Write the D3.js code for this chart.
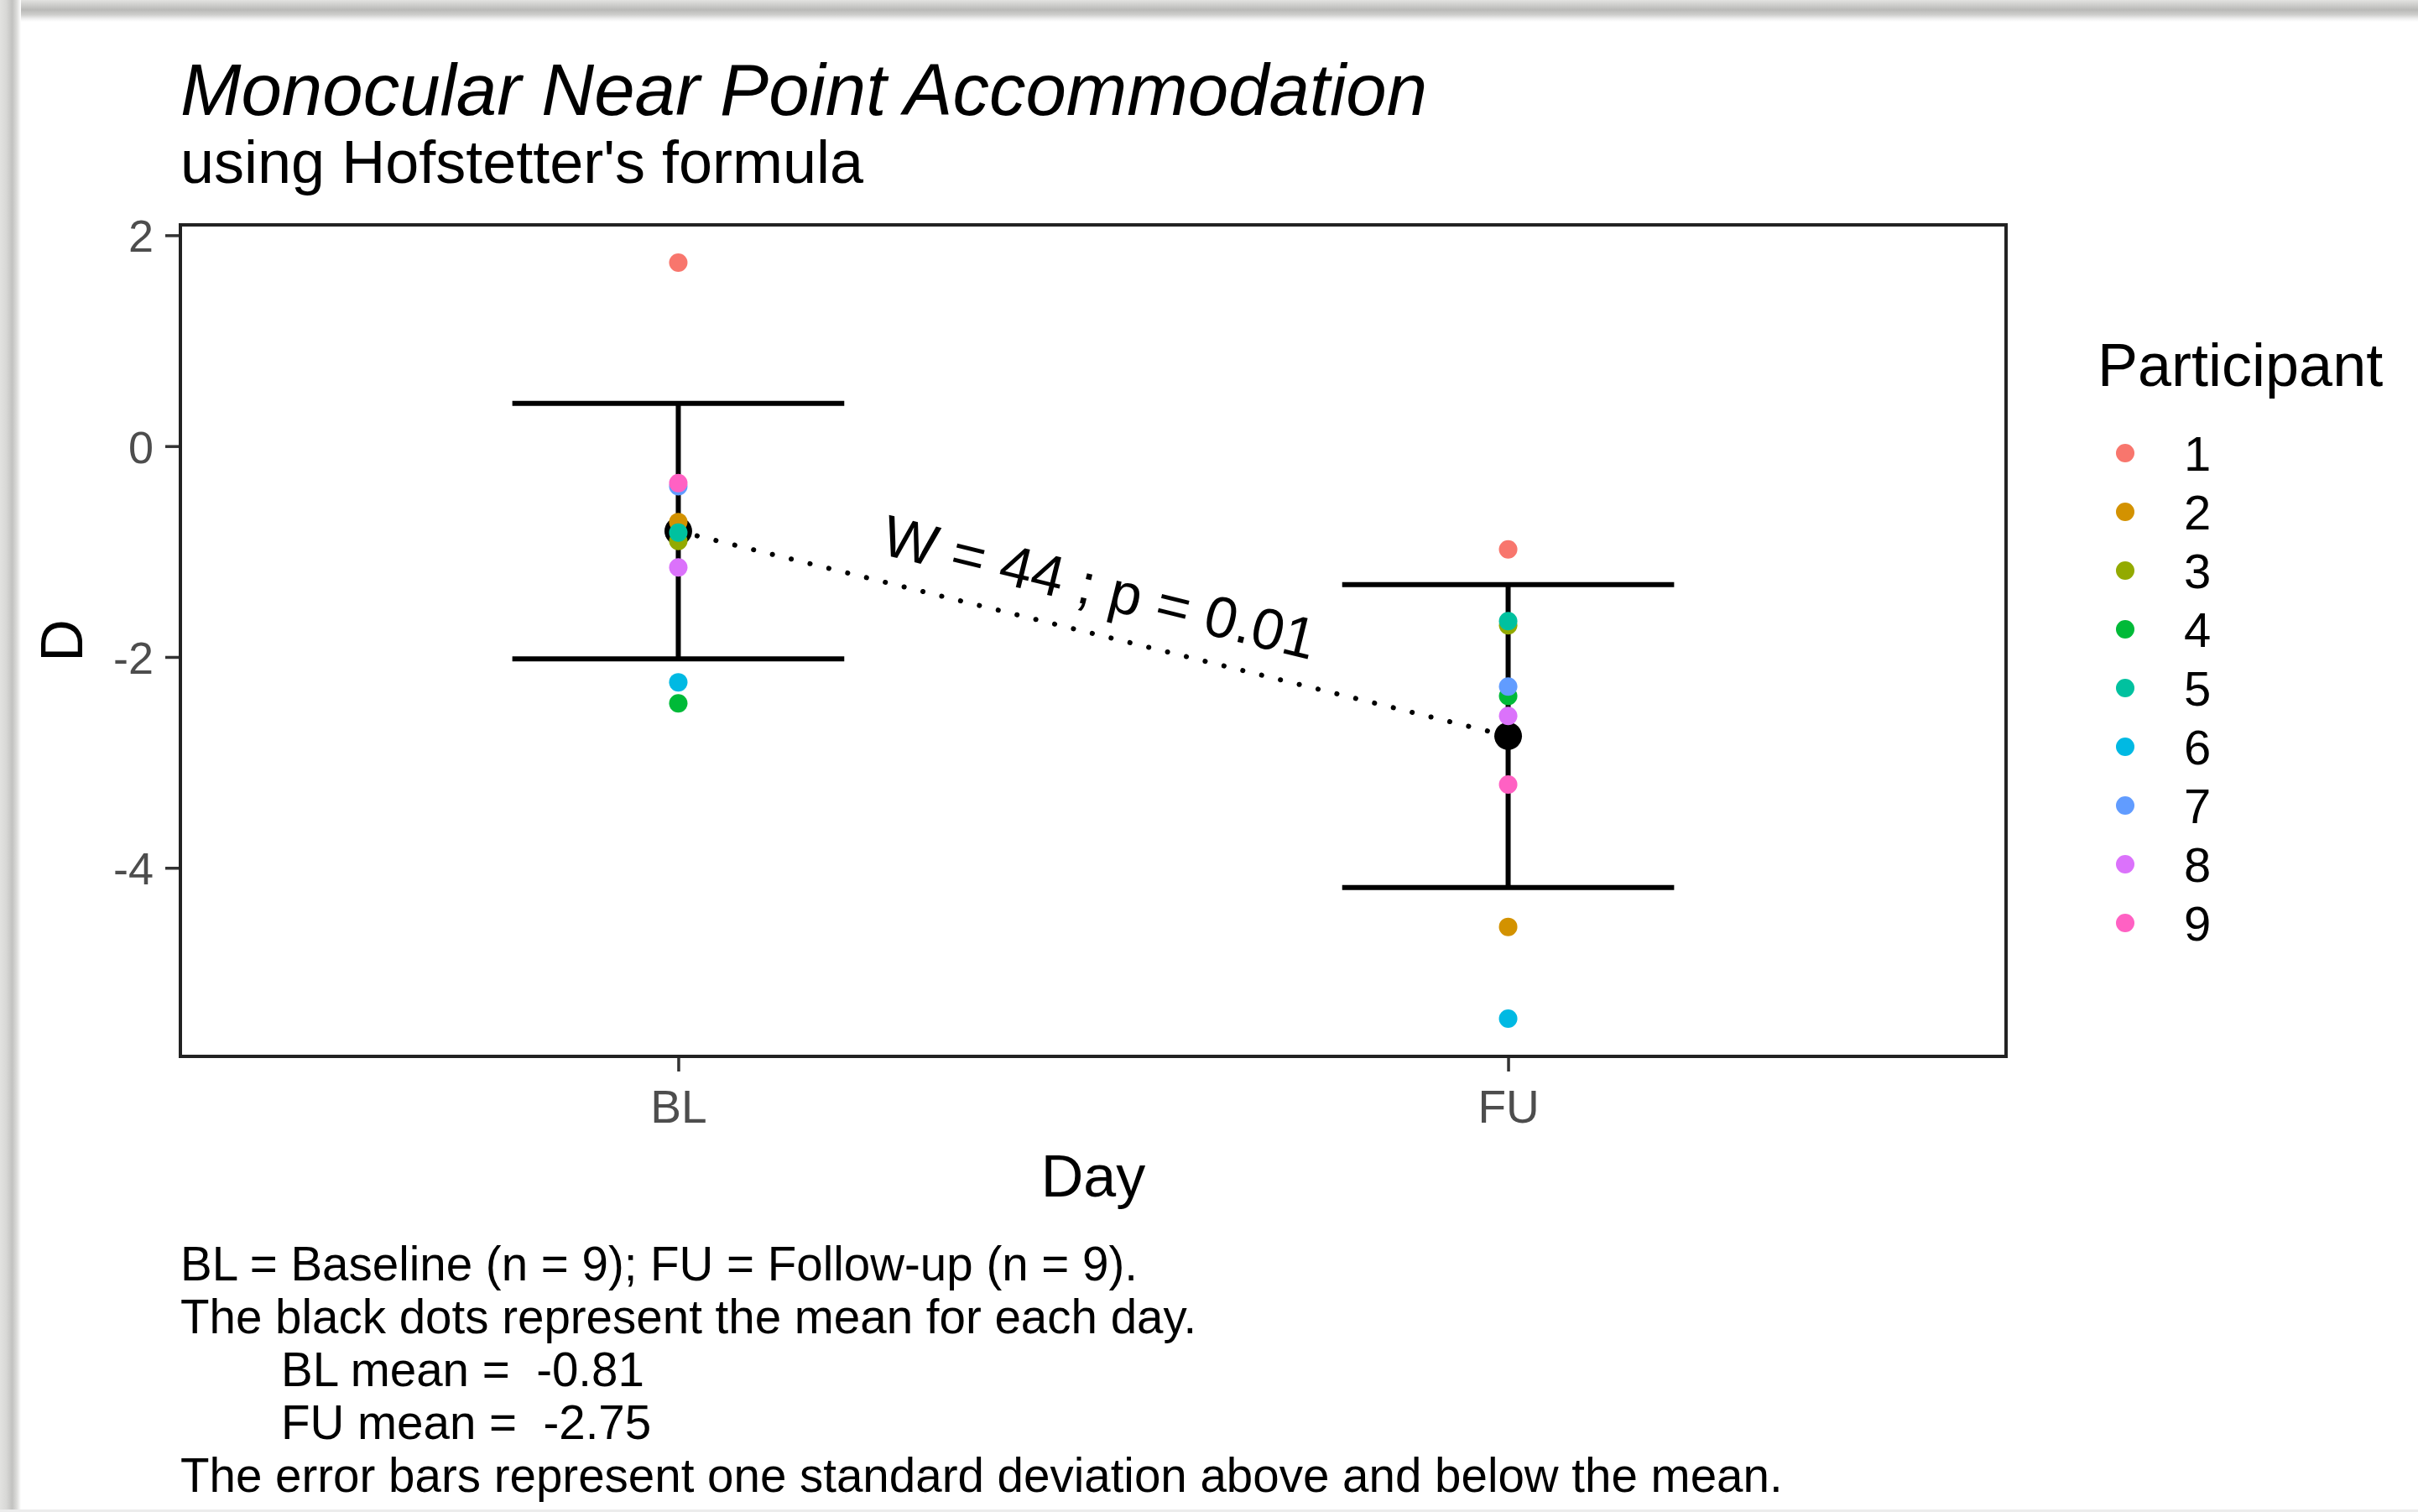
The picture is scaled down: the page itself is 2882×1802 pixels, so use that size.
<!DOCTYPE html>
<html>
<head>
<meta charset="utf-8">
<script src="https://cdn.jsdelivr.net/npm/d3@7"></script>
<style>
  html, body { margin: 0; padding: 0; background: #ffffff; }
  svg { display: block; font-family: "Liberation Sans", Arial, sans-serif; }
  text { white-space: pre; }
</style>
</head>
<body>
<script>
// ---------------- data ----------------
const days = ["BL", "FU"];
const participants = ["1", "2", "3", "4", "5", "6", "7", "8", "9"];
const participantColors = ["#F8766D", "#D39200", "#93AA00", "#00BA38", "#00C19F", "#00B9E3", "#619CFF", "#DB72FB", "#FF61C3"];
const blValues = [1.74, -0.72, -0.90, -2.44, -0.82, -2.24, -0.38, -1.15, -0.35];
const fuValues = [-0.98, -4.56, -1.70, -2.37, -1.66, -5.43, -2.28, -2.56, -3.21];
const yTicks = [-4, -2, 0, 2];
const yTickLabels = ["-4", "-2", "0", "2"];
const titleText = "Monocular Near Point Accommodation";
const subtitleText = "using Hofstetter's formula";
const testLabel = "W = 44 ; p = 0.01";
const captionLines = [
  { text: "BL = Baseline (n = 9); FU = Follow-up (n = 9).", indent: false },
  { text: "The black dots represent the mean for each day.", indent: false },
  { text: "BL mean =  -0.81", indent: true },
  { text: "FU mean =  -2.75", indent: true },
  { text: "The error bars represent one standard deviation above and below the mean.", indent: false }
];

// ---------------- layout ----------------
const W = 2882, H = 1802;
const panel = { left: 215, right: 2391, top: 268, bottom: 1259 };

const svg = d3.select("body").append("svg").attr("width", W).attr("height", H);

// background + shadow frame
const defs = svg.append("defs");
const gTop = defs.append("linearGradient").attr("id", "gTop").attr("x1", 0).attr("y1", 0).attr("x2", 0).attr("y2", 1);
[[0, "#e2e2e0"], [0.2, "#d0d0ce"], [0.45, "#b9b9b7"], [0.68, "#cfcfcd"], [0.85, "#eeeeee"], [1, "#ffffff"]].forEach(s =>
  gTop.append("stop").attr("offset", s[0]).attr("stop-color", s[1]));
const gLeft = defs.append("linearGradient").attr("id", "gLeft").attr("x1", 0).attr("y1", 0).attr("x2", 1).attr("y2", 0);
[[0, "#e2e2e0"], [0.3, "#d8d8d6"], [0.58, "#c2c2c0"], [0.8, "#dcdcda"], [1, "#ffffff"]].forEach(s =>
  gLeft.append("stop").attr("offset", s[0]).attr("stop-color", s[1]));

svg.append("rect").attr("width", W).attr("height", H).attr("fill", "#ffffff");
svg.append("rect").attr("x", 0).attr("y", 0).attr("width", W).attr("height", 26).attr("fill", "url(#gTop)");
svg.append("rect").attr("x", 0).attr("y", 0).attr("width", 25).attr("height", H).attr("fill", "url(#gLeft)");
svg.append("rect").attr("x", 0).attr("y", H - 3).attr("width", W).attr("height", 3).attr("fill", "#ececec");

// ---------------- scales ----------------
const x = d3.scalePoint().domain(days).range([panel.left, panel.right]).padding(0.6);

const seriesByDay = { BL: blValues, FU: fuValues };
const stats = days.map(d => {
  const v = seriesByDay[d];
  const m = d3.mean(v), s = d3.deviation(v);
  return { day: d, mean: m, sd: s, lo: m - s, hi: m + s };
});
const allVals = blValues.concat(fuValues, stats.map(s => s.lo), stats.map(s => s.hi));
const [vmin, vmax] = d3.extent(allVals);
const pad = (vmax - vmin) * 0.05;
const y = d3.scaleLinear().domain([vmin - pad, vmax + pad]).range([panel.bottom, panel.top]);

// ---------------- axes ----------------
const yAxis = d3.axisLeft(y).tickValues(yTicks).tickSize(18).tickPadding(14)
  .tickFormat((d, i) => yTickLabels[i]);
const gy = svg.append("g").attr("transform", `translate(${panel.left},0)`).call(yAxis);
gy.select(".domain").remove();
gy.selectAll(".tick line").attr("stroke", "#333333").attr("stroke-width", 3.5);
gy.selectAll(".tick text").attr("fill", "#4d4d4d").attr("font-size", 54)
  .attr("font-family", "'Liberation Sans', Arial, sans-serif").attr("dy", "0.36em");

const xAxis = d3.axisBottom(x).tickSize(18).tickPadding(22);
const gx = svg.append("g").attr("transform", `translate(0,${panel.bottom})`).call(xAxis);
gx.select(".domain").remove();
gx.selectAll(".tick line").attr("stroke", "#333333").attr("stroke-width", 3.5);
gx.selectAll(".tick text").attr("fill", "#4d4d4d").attr("font-size", 55)
  .attr("font-family", "'Liberation Sans', Arial, sans-serif").attr("dy", "0.71em");

// panel border
svg.append("rect")
  .attr("x", panel.left).attr("y", panel.top)
  .attr("width", panel.right - panel.left).attr("height", panel.bottom - panel.top)
  .attr("fill", "none").attr("stroke", "#222222").attr("stroke-width", 4);

// ---------------- marks ----------------
const plot = svg.append("g");
const capHalf = (x.step() * 0.4) / 2;

// error bars
const eb = plot.selectAll("g.eb").data(stats).enter().append("g");
eb.append("line").attr("x1", d => x(d.day)).attr("x2", d => x(d.day))
  .attr("y1", d => y(d.hi)).attr("y2", d => y(d.lo)).attr("stroke", "#000").attr("stroke-width", 6);
eb.append("line").attr("x1", d => x(d.day) - capHalf).attr("x2", d => x(d.day) + capHalf)
  .attr("y1", d => y(d.hi)).attr("y2", d => y(d.hi)).attr("stroke", "#000").attr("stroke-width", 6);
eb.append("line").attr("x1", d => x(d.day) - capHalf).attr("x2", d => x(d.day) + capHalf)
  .attr("y1", d => y(d.lo)).attr("y2", d => y(d.lo)).attr("stroke", "#000").attr("stroke-width", 6);

// dotted line connecting means
const meanLine = d3.line().x(d => x(d.day)).y(d => y(d.mean));
plot.append("path").datum(stats).attr("d", meanLine)
  .attr("fill", "none").attr("stroke", "#000").attr("stroke-width", 6)
  .attr("stroke-linecap", "round").attr("stroke-dasharray", "0.1 23");

// mean dots
plot.selectAll("circle.mean").data(stats).enter().append("circle")
  .attr("cx", d => x(d.day)).attr("cy", d => y(d.mean)).attr("r", 16.5).attr("fill", "#000");

// participant points
const points = [];
days.forEach(d => seriesByDay[d].forEach((v, i) => points.push({ day: d, p: participants[i], v, c: participantColors[i] })));
plot.selectAll("circle.pt").data(points).enter().append("circle")
  .attr("cx", d => x(d.day)).attr("cy", d => y(d.v)).attr("r", 11).attr("fill", d => d.c);

// test annotation along the mean line
const x0 = x(stats[0].day), y0 = y(stats[0].mean), x1 = x(stats[1].day), y1 = y(stats[1].mean);
const ang = Math.atan2(y1 - y0, x1 - x0) * 180 / Math.PI;
svg.append("text")
  .attr("transform", `translate(${(x0 + x1) / 2 - 6},${(y0 + y1) / 2}) rotate(${ang})`)
  .attr("x", 0).attr("y", -33)
  .attr("text-anchor", "middle").attr("font-size", 69).attr("fill", "#000")
  .text(testLabel);

// ---------------- titles ----------------
svg.append("text").attr("x", 215).attr("y", 137).attr("font-size", 87).attr("font-style", "italic")
  .attr("fill", "#000").text(titleText);
svg.append("text").attr("x", 215).attr("y", 218).attr("font-size", 72).attr("fill", "#000").text(subtitleText);

svg.append("text").attr("x", (panel.left + panel.right) / 2).attr("y", 1426)
  .attr("text-anchor", "middle").attr("font-size", 70).attr("fill", "#000").text("Day");
svg.append("text").attr("transform", `translate(98,${(panel.top + panel.bottom) / 2}) rotate(-90)`)
  .attr("text-anchor", "middle").attr("font-size", 70).attr("fill", "#000").text("D");

// ---------------- legend ----------------
const legend = svg.append("g");
legend.append("text").attr("x", 2500).attr("y", 460).attr("font-size", 72).attr("fill", "#000").text("Participant");
const li = legend.selectAll("g.li").data(participants).enter().append("g")
  .attr("transform", (d, i) => `translate(0,${540 + i * 70})`);
li.append("circle").attr("cx", 2533).attr("cy", 0).attr("r", 11).attr("fill", (d, i) => participantColors[i]);
li.append("text").attr("x", 2603).attr("y", 0).attr("dy", "0.36em").attr("font-size", 58).attr("fill", "#000").text(d => d);

// ---------------- caption ----------------
svg.append("g").selectAll("text").data(captionLines).enter().append("text")
  .attr("x", d => d.indent ? 335 : 215)
  .attr("y", (d, i) => 1526 + i * 63)
  .attr("font-size", 56.5).attr("fill", "#000")
  .text(d => d.text);
</script>
</body>
</html>
